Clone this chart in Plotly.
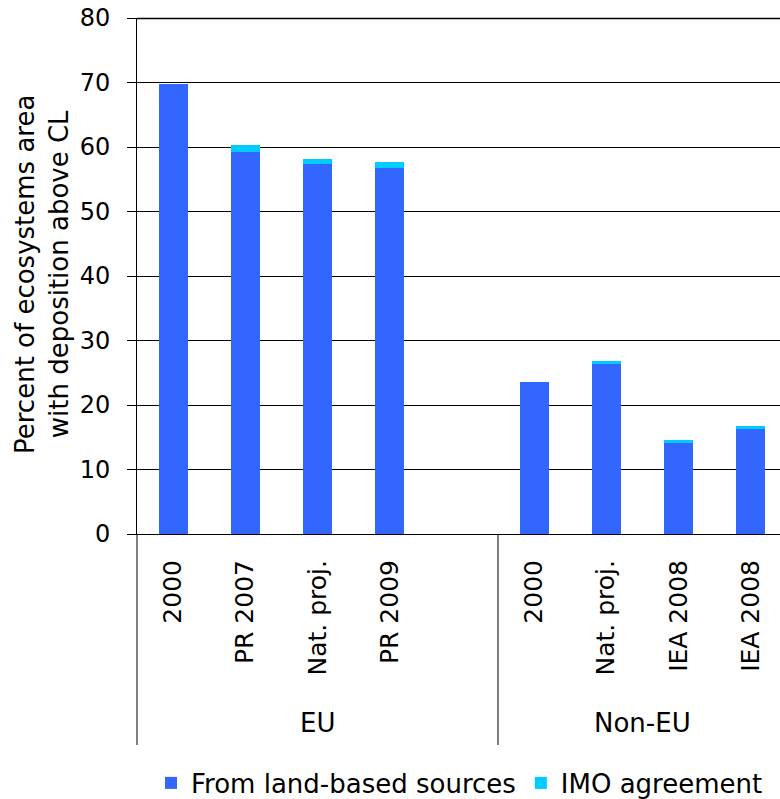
import plotly.graph_objects as go

categories = ["2000", "PR 2007", "Nat. proj.", "PR 2009", "2000", "Nat. proj.", "IEA 2008", "IEA 2008"]
groups = ["EU", "EU", "EU", "EU", "Non-EU", "Non-EU", "Non-EU", "Non-EU"]
slots = [0, 1, 2, 3, 5, 6, 7, 8]
land_based = [69.7, 59.3, 57.3, 56.7, 23.5, 26.5, 14.2, 16.4]
imo = [0.0, 0.95, 0.9, 0.9, 0.0, 0.3, 0.3, 0.3]
y_ticks = [0, 10, 20, 30, 40, 50, 60, 70, 80]

FONT = "DejaVu Sans"
FS = 24
fig = go.Figure()
fig.add_trace(go.Bar(x=slots, y=land_based, name="From land-based sources",
                     marker=dict(color="#3366FF", line=dict(width=0)), width=0.4))
fig.add_trace(go.Bar(x=slots, y=imo, name="IMO agreement",
                     marker=dict(color="#00CCFF", line=dict(width=0)), width=0.4))

W, H = 780, 799
# plot area in page pixels
refL, refT, refR, refB = 137, 18, 780, 534
L, T = refL, refT
R = W - refR
B = H - refB
ph = H - T - B
pw = W - L - R


def py(ref_y):
    return -(ref_y - refB) / ph


def px(ref_x):
    return (ref_x - refL) / pw


fig.update_layout(
    width=W, height=H, barmode="stack",
    margin=dict(l=L, r=R, t=T, b=B, autoexpand=False),
    plot_bgcolor="white", paper_bgcolor="white",
    font=dict(family=FONT, size=FS, color="#000000"),
    xaxis=dict(range=[-0.5, 8.406], tickvals=slots, ticktext=categories,
               tickangle=-90, showgrid=False, showline=True, linecolor="#000000",
               linewidth=1, ticks="", zeroline=False, automargin=False,
               ticklabelstandoff=15, tickfont=dict(size=25)),
    yaxis=dict(range=[0, 80], tickvals=y_ticks, showgrid=True, gridcolor="#000000",
               gridwidth=1, showline=True, linecolor="#000000", linewidth=1,
               ticks="outside", ticklen=9, tickcolor="#000000", zeroline=False,
               automargin=False, ticklabelstandoff=12, tickfont=dict(size=FS)),
    showlegend=True,
    legend=dict(orientation="h", x=px(151), xanchor="left", y=py(783),
                yanchor="middle", font=dict(size=26), traceorder="normal",
                itemwidth=30),
)

# top gridline (at 80) and group box lines
fig.add_shape(type="line", xref="paper", yref="paper", x0=0, x1=1,
              y0=1 - 0.5 / ph, y1=1 - 0.5 / ph, layer="above",
              line=dict(color="#000000", width=1.5))
fig.add_shape(type="line", xref="paper", yref="paper", x0=0, x1=0, y0=0, y1=py(745),
              line=dict(color="#000000", width=1))
fig.add_shape(type="line", xref="x", yref="paper", x0=4.5, x1=4.5, y0=0, y1=py(745),
              line=dict(color="#000000", width=1))

# group labels
group_names = ["EU", "Non-EU"]
group_centers = [2.0, 6.5]
for g, c in zip(group_names, group_centers):
    fig.add_annotation(x=c, y=py(723), xref="x", yref="paper", text=g, showarrow=False,
                       font=dict(size=26), xanchor="center", yanchor="middle")

fig.add_annotation(x=px(42), y=py(275), xref="paper", yref="paper",
                   text="Percent of ecosystems area<br>with deposition above CL",
                   textangle=-90, showarrow=False, font=dict(size=26),
                   xanchor="center", yanchor="middle")

fig.write_html("out.html", config={"displayModeBar": False},
               post_script="document.body.style.margin='0';document.body.style.overflow='hidden';")
